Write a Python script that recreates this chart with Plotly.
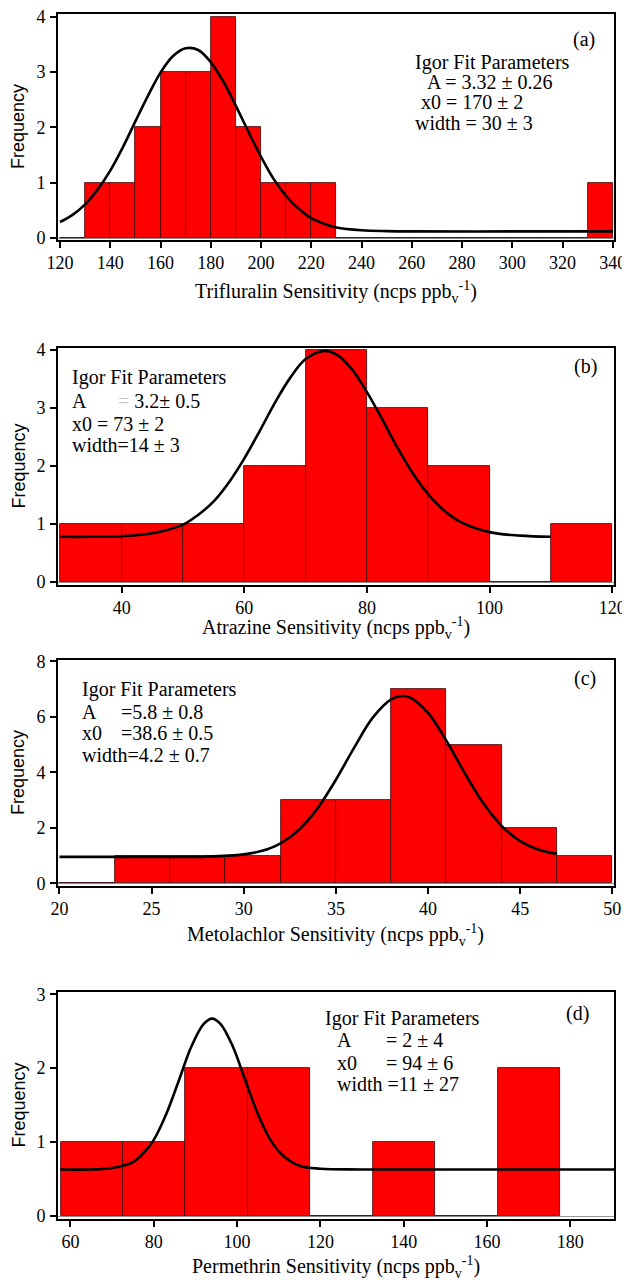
import plotly.graph_objects as go
import numpy as np

# The page body has an 8 px margin, so the figure is drawn 8 px smaller and
# every reference pixel position is shifted by that offset.
OFF = 8
W, H = 630 - OFF, 1280 - OFF
SERIF = "Liberation Serif, Times New Roman, serif"
SANS = "Liberation Sans, Arial, sans-serif"

# ---------------- data ----------------
# (a) Trifluralin
a_left = [120, 130, 140, 150, 160, 170, 180, 190, 200, 210, 220, 230, 240, 250, 260, 270, 280, 290, 300, 310, 320, 330]
a_counts = [0, 1, 1, 2, 3, 3, 4, 2, 1, 1, 1, 0, 0, 0, 0, 0, 0, 0, 0, 0, 0, 1]
a_binw = 10
a_fit_x = [120, 125, 130, 135, 140, 145, 150, 155, 160, 165, 170, 175, 180, 185, 190, 195, 200, 205, 210, 215, 220, 225, 230, 240, 250, 260, 300, 340]
a_fit_y = [0.29, 0.42, 0.61, 0.88, 1.22, 1.64, 2.11, 2.57, 2.99, 3.29, 3.43, 3.40, 3.18, 2.83, 2.39, 1.92, 1.47, 1.07, 0.76, 0.53, 0.36, 0.26, 0.19, 0.14, 0.125, 0.12, 0.12, 0.12]

# (b) Atrazine
b_left = [30, 40, 50, 60, 70, 80, 90, 100, 110]
b_counts = [1, 1, 1, 2, 4, 3, 2, 0, 1]
b_binw = 10
b_fit_x = [30, 35, 40, 45, 50, 52.5, 55, 57.5, 60, 62.5, 65, 67.5, 70, 73, 75, 77.5, 80, 82.5, 85, 87.5, 90, 92.5, 95, 100, 105, 110]
b_fit_y = [0.78, 0.78, 0.79, 0.84, 0.99, 1.16, 1.39, 1.72, 2.13, 2.60, 3.09, 3.52, 3.84, 3.98, 3.92, 3.67, 3.27, 2.80, 2.31, 1.87, 1.51, 1.24, 1.05, 0.86, 0.80, 0.78]

# (c) Metolachlor
c_left = [20, 23, 26, 29, 32, 35, 38, 41, 44, 47]
c_counts = [0, 1, 1, 1, 3, 3, 7, 5, 2, 1]
c_binw = 3
c_fit_x = [20, 25, 28, 30, 31, 32, 33, 34, 35, 36, 37, 38, 38.6, 39, 40, 41, 42, 43, 44, 45, 46, 47]
c_fit_y = [0.95, 0.95, 0.96, 1.04, 1.17, 1.44, 1.93, 2.70, 3.73, 4.90, 5.97, 6.63, 6.75, 6.70, 6.14, 5.13, 3.96, 2.88, 2.06, 1.52, 1.21, 1.06]

# (d) Permethrin
d_left = [57.6, 72.6, 87.6, 102.6, 117.6, 132.6, 147.6, 162.6]
d_counts = [1, 1, 2, 2, 0, 1, 0, 2]
d_binw = 15
d_fit_x = [57.6, 65, 70, 75, 78, 80, 83, 86, 89, 92, 94, 96, 99, 102, 105, 108, 111, 115, 120, 130, 190.5]
d_fit_y = [0.63, 0.63, 0.65, 0.73, 0.88, 1.03, 1.38, 1.83, 2.29, 2.60, 2.67, 2.60, 2.29, 1.83, 1.38, 1.03, 0.82, 0.68, 0.64, 0.63, 0.63]

x_titles = ["Trifluralin Sensitivity (ncps ppb<sub>v</sub><sup>-1</sup>)",
            "Atrazine Sensitivity (ncps ppb<sub>v</sub><sup>-1</sup>)",
            "Metolachlor Sensitivity (ncps ppb<sub>v</sub><sup>-1</sup>)",
            "Permethrin Sensitivity (ncps ppb<sub>v</sub><sup>-1</sup>)"]

panels = [
    dict(left=a_left, counts=a_counts, w=a_binw, fx=a_fit_x, fy=a_fit_y,
         xr=[119.2, 340.5], yr=[-0.035, 4.05], xt0=120, xdt=20, ydt=1,
         top=14, bot=240, title_y=292),
    dict(left=b_left, counts=b_counts, w=b_binw, fx=b_fit_x, fy=b_fit_y,
         xr=[29.6, 120.3], yr=[-0.05, 4.03], xt0=40, xdt=20, ydt=1,
         top=348, bot=585, title_y=628),
    dict(left=c_left, counts=c_counts, w=c_binw, fx=c_fit_x, fy=c_fit_y,
         xr=[19.92, 50.09], yr=[-0.1, 8.05], xt0=20, xdt=5, ydt=2,
         top=660, bot=886, title_y=935),
    dict(left=d_left, counts=d_counts, w=d_binw, fx=d_fit_x, fy=d_fit_y,
         xr=[57.0, 190.5], yr=[-0.04, 3.03], xt0=60, xdt=20, ydt=1,
         top=992, bot=1219, title_y=1267),
]

PL, PR = 58, 614

fig = go.Figure()
layout = dict(width=W, height=H, margin=dict(l=0, r=0, t=0, b=0, pad=0, autoexpand=False),
              paper_bgcolor="white", plot_bgcolor="white", template="none",
              showlegend=False, bargap=0, barmode="overlay")

annotations = []

def px2x(px):
    return (px - OFF) / W

def px2y(py):
    return 1 - (py - OFF) / H

for i, p in enumerate(panels):
    n = "" if i == 0 else str(i + 1)
    xa = "x" + n
    ya = "y" + n
    centers = np.array(p["left"]) + p["w"] / 2.0
    fig.add_trace(go.Bar(x=centers, y=p["counts"], width=p["w"],
                         marker=dict(color="#ff0000", line=dict(color="#3a0808", width=0.8)),
                         xaxis=xa, yaxis=ya, hoverinfo="skip"))
    fig.add_trace(go.Scatter(x=p["fx"], y=p["fy"], mode="lines", line_shape="spline",
                             line=dict(color="black", width=2.6),
                             xaxis=xa, yaxis=ya, hoverinfo="skip"))
    axis_common = dict(showline=True, linecolor="black", linewidth=1.6, mirror=True,
                       ticks="outside", ticklen=6, tickwidth=1.5, tickcolor="black",
                       showgrid=False, automargin=False, ticklabeloverflow="allow",
                       tickfont=dict(family=SERIF, size=18, color="black"))
    layout["xaxis" + n] = dict(axis_common, domain=[px2x(PL), px2x(PR)], range=p["xr"],
                               tick0=p["xt0"], dtick=p["xdt"], zeroline=False,
                               anchor=ya, ticklabelstandoff=0)
    layout["yaxis" + n] = dict(axis_common, domain=[px2y(p["bot"]), px2y(p["top"])],
                               range=p["yr"], tick0=0, dtick=p["ydt"],
                               zeroline=True, zerolinecolor="#9a9a9a", zerolinewidth=1,
                               anchor=xa, ticklabelstandoff=1)
    annotations.append(dict(text=x_titles[i], x=px2x((PL + PR) / 2), y=px2y(p["title_y"]),
                            xref="paper", yref="paper", showarrow=False,
                            xanchor="center", yanchor="middle",
                            font=dict(family=SERIF, size=20, color="black")))
    annotations.append(dict(text="Frequency", x=px2x(18), y=px2y((p["top"] + p["bot"]) / 2),
                            xref="paper", yref="paper", showarrow=False, textangle=-90,
                            xanchor="center", yanchor="middle",
                            font=dict(family=SANS, size=18, color="black")))

# panel texts: (text, x_px, y_px, anchor)
texts = [
    ("(a)", 584, 40, "center"),
    ("Igor Fit Parameters", 413, 62, "left"),
    ("A = 3.32 ± 0.26", 425, 82, "left"),
    ("x0 = 170 ± 2", 419, 102, "left"),
    ("width = 30 ± 3", 413, 123, "left"),

    ("(b)", 585, 367, "center"),
    ("Igor Fit Parameters", 70, 377, "left"),
    ("A", 70, 401, "left"),
    ("<span style='color:#c8c8c8'>=</span> 3.2± 0.5", 116, 401, "left"),
    ("x0 = 73 ± 2", 70, 424, "left"),
    ("width=14 ± 3", 70, 445, "left"),

    ("(c)", 585, 678, "center"),
    ("Igor Fit Parameters", 80, 689, "left"),
    ("A", 80, 712, "left"),
    ("=5.8 ± 0.8", 119, 712, "left"),
    ("x0", 80, 733, "left"),
    ("=38.6 ± 0.5", 119, 733, "left"),
    ("width=4.2 ± 0.7", 80, 755, "left"),

    ("(d)", 577, 1013, "center"),
    ("Igor Fit Parameters", 323, 1018, "left"),
    ("A", 335, 1040, "left"),
    ("= 2 ± 4", 384, 1040, "left"),
    ("x0", 335, 1063, "left"),
    ("= 94 ± 6", 384, 1063, "left"),
    ("width =11 ± 27", 335, 1084, "left"),
]
for t, x, y, anc in texts:
    annotations.append(dict(text=t, x=px2x(x), y=px2y(y), xref="paper", yref="paper",
                            showarrow=False, xanchor=anc, yanchor="middle",
                            font=dict(family=SERIF, size=20, color="black")))

layout["annotations"] = annotations
fig.update_layout(**layout)
fig.write_html("out.html")
